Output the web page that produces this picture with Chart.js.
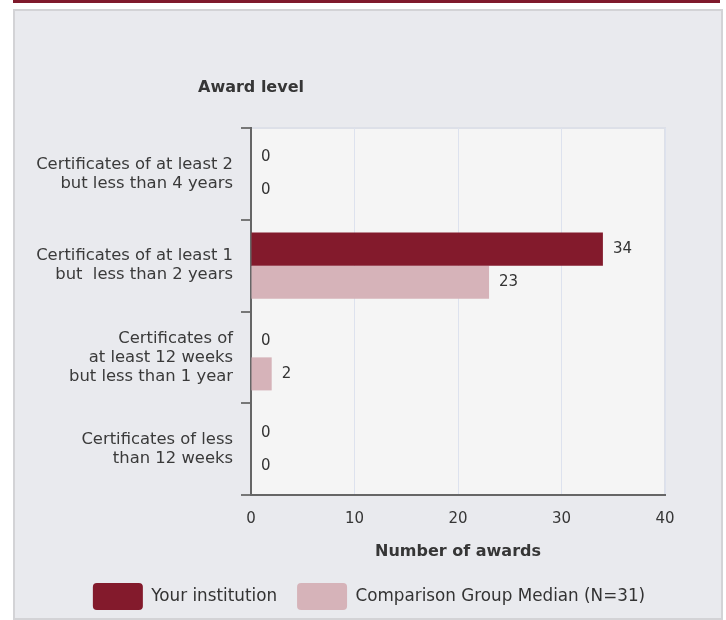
<!DOCTYPE html>
<html>
<head>
<meta charset="utf-8">
<script src="https://cdn.jsdelivr.net/npm/chart.js@4.4.1/dist/chart.umd.min.js"></script>
<style>
  html, body { margin: 0; padding: 0; background: #ffffff; }
  #topline { position: absolute; left: 13px; top: 0; width: 707px; height: 3px; background: #7f1a2c; }
  #panel { position: absolute; left: 13px; top: 9px; width: 706px; height: 607px;
           background: #e9eaee; border: 2px solid #d3d3d6; }
  #wrap { position: absolute; left: 0; top: 0; width: 726px; height: 620px; }
</style>
</head>
<body>
<div id="topline"></div>
<div id="panel"></div>
<div id="wrap"><canvas id="awards" width="726" height="620"></canvas></div>
<script>
const levels = [
  ["Certificates of at least 2", "but less than 4 years"],
  ["Certificates of at least 1", "but  less than 2 years"],
  ["Certificates of", "at least 12 weeks", "but less than 1 year"],
  ["Certificates of less", "than 12 weeks"]
];
const yourInstitution = [0, 34, 0, 0];
const groupMedian = [0, 23, 2, 0];
const xTicks = [0, 10, 20, 30, 40];

const FONT = "'DejaVu Sans', sans-serif";

// plot background + light frame, and the "Award level" heading
const plotFrame = {
  id: "plotFrame",
  beforeDraw(chart) {
    const { ctx, chartArea: a } = chart;
    ctx.save();
    ctx.fillStyle = "#f5f5f5";
    ctx.fillRect(a.left, a.top, a.right - a.left, a.bottom - a.top);
    ctx.strokeStyle = "#dde0e8";
    ctx.lineWidth = 2;
    ctx.beginPath();
    ctx.moveTo(a.left, a.top);
    ctx.lineTo(a.right, a.top);
    ctx.lineTo(a.right, a.bottom);
    ctx.stroke();
    ctx.restore();
  },
  afterDraw(chart) {
    const { ctx } = chart;
    ctx.save();
    ctx.font = "bold 16px " + FONT;
    ctx.fillStyle = "#363636";
    ctx.textAlign = "center";
    ctx.textBaseline = "middle";
    ctx.fillText("Award level", chart.chartArea.left, 88);
    ctx.restore();
  }
};

// value at the end of each bar
const barValues = {
  id: "barValues",
  afterDatasetsDraw(chart) {
    const { ctx } = chart;
    ctx.save();
    ctx.font = "15px " + FONT;
    ctx.fillStyle = "#333333";
    ctx.textAlign = "left";
    ctx.textBaseline = "middle";
    chart.data.datasets.forEach((ds, i) => {
      chart.getDatasetMeta(i).data.forEach((bar, j) => {
        ctx.fillText(String(ds.data[j]), bar.x + 10, bar.y);
      });
    });
    ctx.restore();
  }
};

new Chart(document.getElementById("awards"), {
  type: "bar",
  data: {
    labels: levels,
    datasets: [
      {
        label: "Your institution",
        data: yourInstitution,
        backgroundColor: "#831a2c",
        borderWidth: 0,
        categoryPercentage: 0.72,
        barPercentage: 1
      },
      {
        label: "Comparison Group Median (N=31)",
        data: groupMedian,
        backgroundColor: "#d6b3b9",
        borderWidth: 0,
        categoryPercentage: 0.72,
        barPercentage: 1
      }
    ]
  },
  options: {
    indexAxis: "y",
    responsive: false,
    animation: false,
    layout: { padding: { top: 128, right: 0, bottom: 0, left: 12 } },
    scales: {
      x: {
        min: 0,
        max: 40,
        afterBuildTicks(scale) { scale.ticks = xTicks.map(v => ({ value: v })); },
        afterFit(scale) { scale.height = 68; },
        grid: { color: "#dde2ee", drawTicks: false, lineWidth: 1 },
        border: { color: "#666666", width: 2 },
        ticks: { color: "#363636", font: { family: FONT, size: 15 }, padding: 15 },
        title: {
          display: true,
          text: "Number of awards",
          color: "#363636",
          font: { family: FONT, size: 16, weight: "bold" },
          padding: { top: 0, bottom: 2 }
        }
      },
      y: {
        afterFit(scale) { scale.width = 239; },
        grid: { offset: true, drawOnChartArea: false, tickLength: 10, color: "#777777", lineWidth: 2 },
        border: { color: "#666666", width: 2 },
        ticks: { color: "#3a3a3a", font: { family: FONT, size: 16.4, lineHeight: 1.16 }, padding: 8 }
      },
      // empty spacer on the right so the plot ends at 40 where the picture does
      spacer: {
        type: "linear",
        position: "right",
        display: true,
        afterFit(scale) { scale.width = 61; },
        grid: { display: false },
        border: { display: false },
        ticks: { display: false }
      }
    },
    plugins: {
      legend: {
        position: "bottom",
        labels: {
          boxWidth: 50,
          boxHeight: 27,
          useBorderRadius: true,
          borderRadius: 4,
          padding: 20,
          color: "#333333",
          font: { family: FONT, size: 16.8 }
        }
      },
      tooltip: { enabled: false }
    }
  },
  plugins: [plotFrame, barValues]
});
</script>
</body>
</html>
